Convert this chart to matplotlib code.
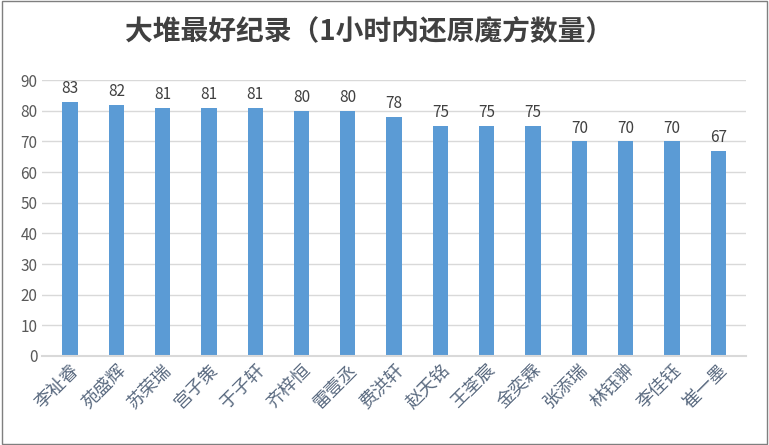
import matplotlib
matplotlib.use("Agg")
import matplotlib.pyplot as plt
from matplotlib.patches import Rectangle

plt.rcParams['font.family'] = ['Noto Sans CJK SC', 'DejaVu Sans']

names = ["李祉睿", "苑盛辉", "苏荣瑞", "宫子策", "于子轩", "齐梓恒", "雷壹丞", "费洪轩",
         "赵天铭", "王荃宸", "金奕霖", "张添瑞", "林钰翀", "李佳钰", "崔一墨"]
values = [83, 82, 81, 81, 81, 80, 80, 78, 75, 75, 75, 70, 70, 70, 67]
yticks = list(range(0, 91, 10))

fig = plt.figure(figsize=(7.69, 4.45), dpi=100)
fig.patches.append(Rectangle((0.002, 0.002), 0.996, 0.996, transform=fig.transFigure,
                             fill=False, edgecolor='#7f7f7f', linewidth=1))
ax = fig.add_axes([0.055, 0.2, 0.915, 0.62])
x = list(range(len(names)))
bars = ax.bar(x, values, width=0.33, color='#5b9bd5')
for xi, v in zip(x, values):
    ax.text(xi, v + 1.5, str(v), ha='center', va='bottom', fontsize=11, color='#404040')
ax.set_ylim(0, 90)
ax.set_xlim(-0.6, len(names) - 0.4)
ax.set_yticks(yticks)
ax.yaxis.grid(True, color='#d9d9d9', linewidth=1)
ax.set_axisbelow(True)
for s in ['top', 'right', 'left']:
    ax.spines[s].set_visible(False)
ax.spines['bottom'].set_color('#d9d9d9')
ax.spines['bottom'].set_linewidth(1.5)
ax.tick_params(axis='both', length=0, labelsize=11, colors='#595959')
ax.set_xticks(x)
ax.set_xticklabels(names, rotation=45, ha='right', rotation_mode='anchor', fontsize=13, color='#5a6a80')
fig.text(0.48, 0.925, "大堆最好纪录（1小时内还原魔方数量）", ha='center', va='center',
         fontsize=20, fontweight='bold', color='#404040')
fig.savefig("out.png", dpi=100)
